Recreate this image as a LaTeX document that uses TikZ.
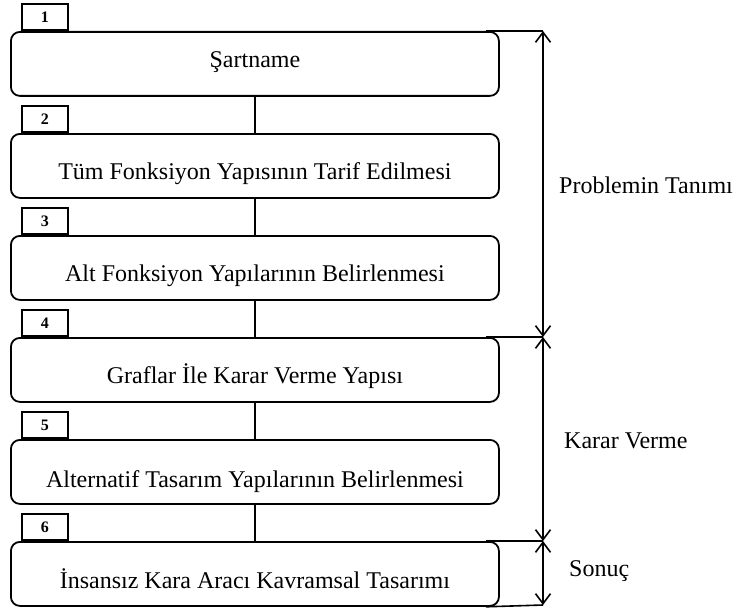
\documentclass[tikz,border=0pt]{standalone}
\usepackage{fontspec}
\setmainfont{Liberation Serif}
\usetikzlibrary{arrows.meta}
\begin{document}
\begin{tikzpicture}[x=1pt,y=-1pt,
  stepbox/.style={draw, line width=1.8pt, rounded corners=9pt, minimum width=488pt, minimum height=64pt, inner sep=0pt, anchor=north west},
  tabbox/.style={draw, line width=1.8pt, minimum width=46pt, minimum height=26pt, inner sep=0pt, anchor=south west, font=\fontsize{16}{18}\selectfont\bfseries},
  boxtext/.style={anchor=base, font=\fontsize{24}{27}\selectfont, inner sep=0pt},
  conn/.style={line width=1.6pt},
  guide/.style={line width=1.6pt},
  dim/.style={line width=1.6pt, {Straight Barb[length=10pt,width=15pt,line width=1.6pt]}-{Straight Barb[length=10pt,width=15pt,line width=1.6pt]}},
  sidelabel/.style={anchor=base west, font=\fontsize{24}{27}\selectfont, inner sep=0pt}]
\useasboundingbox (0,0) rectangle (738,607);

% boxes
\node[stepbox] (b1) at (10,31) {};
\node[stepbox] (b2) at (10,133) {};
\node[stepbox] (b3) at (10,235) {};
\node[stepbox] (b4) at (10,337) {};
\node[stepbox] (b5) at (10,439) {};
\node[stepbox] (b6) at (10,541) {};

% texts
\node[boxtext] (t1) at ([yshift=-4pt]b1.center) {Şartname};
\node[boxtext] (t2) at ([yshift=-14pt]b2.center) {Tüm Fonksiyon Yapısının Tarif Edilmesi};
\node[boxtext] (t3) at ([yshift=-14pt]b3.center) {Alt Fonksiyon Yapılarının Belirlenmesi};
\node[boxtext] (t4) at ([yshift=-14pt]b4.center) {Graflar İle Karar Verme Yapısı};
\node[boxtext] (t5) at ([yshift=-16pt]b5.center) {Alternatif Tasarım Yapılarının Belirlenmesi};
\node[boxtext] (t6) at ([yshift=-15pt]b6.center) {İnsansız Kara Aracı Kavramsal Tasarımı};

% tabs
\node[tabbox] (n1) at (21,31) {1};
\node[tabbox] (n2) at (21,133) {2};
\node[tabbox] (n3) at (21,235) {3};
\node[tabbox] (n4) at (21,337) {4};
\node[tabbox] (n5) at (21,439) {5};
\node[tabbox] (n6) at (21,541) {6};

% connectors
\draw[conn] (b1.south) -- (b2.north);
\draw[conn] (b2.south) -- (b3.north);
\draw[conn] (b3.south) -- (b4.north);
\draw[conn] (b4.south) -- (b5.north);
\draw[conn] (b5.south) -- (b6.north);

% dimension guides
\coordinate (d1) at (543,31);
\coordinate (d2) at (543,337);
\coordinate (d3) at (543,541);
\coordinate (d4) at (543,605);
\draw[guide] ([xshift=-14pt]b1.north east) -- (d1);
\draw[guide] ([xshift=-14pt]b4.north east) -- (d2);
\draw[guide] ([xshift=-14pt]b6.north east) -- (d3);
\draw[guide] ([xshift=-14pt]b6.south east) -- (d4);

\draw[dim] (d1) -- (d2);
\draw[dim] (d2) -- (d3);
\draw[dim] (d3) -- (d4);

\node[sidelabel] (l1) at (559,193) {Problemin Tanımı};
\node[sidelabel] (l2) at (564,448) {Karar Verme};
\node[sidelabel] (l3) at (569,576) {Sonuç};
\end{tikzpicture}
\end{document}
